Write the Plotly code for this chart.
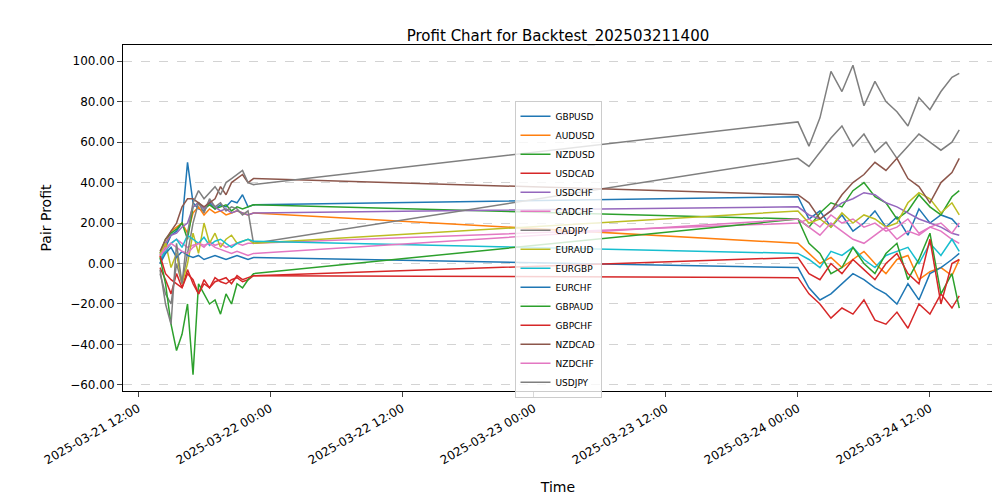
import plotly.graph_objects as go
import pandas as pd

t1 = list(pd.date_range("2025-03-21 14:00", "2025-03-21 22:30", freq="30min"))
t2 = list(pd.date_range("2025-03-24 00:00", "2025-03-24 14:00", freq="60min")) + [pd.Timestamp("2025-03-24 14:40")]
times = t1 + t2

names = ["GBPUSD","AUDUSD","NZDUSD","USDCAD","USDCHF","CADCHF","CADJPY","EURAUD",
         "EURGBP","EURCHF","GBPAUD","GBPCHF","NZDCAD","NZDCHF","USDJPY"]
colors = ["#1f77b4","#ff7f0e","#2ca02c","#d62728","#9467bd","#e377c2","#7f7f7f","#bcbd22",
          "#17becf","#1f77b4","#2ca02c","#d62728","#8c564b","#e377c2","#7f7f7f"]

GBPUSD = [0,8,14,16,20,50,30,27,26,30,27,29,28,31,30,34,28,29,
          33,22,26,18,24,16,20,26,18,23,14,27,20,24,22,18]
AUDUSD = [3,10,16,18,20,15,25,28,24,27,25,26,24,25,26,25,24,25,
          10,5,0,3,-2,2,6,0,-5,2,4,-8,-4,-2,-6,2]
NZDUSD = [5,12,15,17,20,12,28,30,27,29,27,28,29,26,28,27,28,29,
          22,18,25,30,28,36,40,33,30,22,26,34,28,24,33,36]
USDCAD = [-2,-8,-15,-5,-12,-3,-10,-15,-8,-12,-7,-9,-10,-8,-7,-9,-8,-6,
          -7,-15,-20,-27,-22,-25,-18,-28,-30,-24,-32,-20,-25,-15,-22,-16]
USDCHF = [4,10,14,15,18,20,28,30,27,31,28,26,27,25,26,25,24,25,
          28,24,22,26,30,32,35,34,30,28,25,22,20,18,15,14]
CADCHF = [5,8,10,12,10,8,9,10,8,11,9,10,8,9,10,9,10,10,
          20,22,18,24,20,22,18,20,16,18,22,15,18,16,12,10]
CADJPY = [-5,-15,-20,0,-10,5,20,30,25,32,28,30,26,28,27,24,26,10,
          52,48,55,62,68,58,64,55,60,52,58,64,60,56,60,66]
EURAUD = [5,10,-2,5,-10,0,15,5,20,10,15,8,12,14,10,11,12,10,
          26,20,22,18,25,20,24,22,18,20,30,35,32,25,30,24]
EURGBP = [2,6,10,12,8,14,12,10,13,9,11,12,10,8,10,11,12,11,
          5,2,-2,6,4,8,2,-2,4,6,8,0,10,4,12,6]
EURCHF = [0,5,8,3,6,4,3,4,2,3,4,3,2,3,4,3,2,3,
          -2,-12,-18,-15,-10,-5,-8,-12,-15,-20,-10,-18,-5,-2,2,5]
GBPAUD = [3,-10,-30,-43,-35,-20,-55,-10,-15,-20,-18,-25,-15,-20,-10,-12,-8,-5,
          22,10,5,-5,-2,8,0,-5,5,10,-8,2,15,-15,-5,-22]
GBPCHF = [4,-5,-8,-10,-12,-5,-8,-15,-10,-12,-9,-8,-7,-10,-6,-8,-7,-6,
          3,-5,-8,0,-5,2,-3,-8,0,5,-5,-10,12,-20,0,2]
NZDCAD = [6,12,16,20,28,32,32,30,28,30,32,38,34,40,42,44,40,42,
          34,30,22,26,34,40,44,50,46,52,42,38,30,40,45,52]
NZDCHF = [4,7,10,8,6,5,8,10,9,10,8,7,6,5,6,5,4,5,
          22,18,14,20,16,12,10,14,18,12,16,14,18,20,15,20]
USDJPY = [-3,-20,-30,10,-10,15,30,36,32,35,38,34,40,42,44,46,40,39,
          70,58,72,95,85,98,78,90,80,75,68,82,76,85,92,94]

series = [GBPUSD,AUDUSD,NZDUSD,USDCAD,USDCHF,CADCHF,CADJPY,EURAUD,
          EURGBP,EURCHF,GBPAUD,GBPCHF,NZDCAD,NZDCHF,USDJPY]

fig = go.Figure()
for n, c, v in zip(names, colors, series):
    fig.add_trace(go.Scatter(x=times, y=v, mode="lines", name=n,
                             line=dict(color=c, width=1.5)))

ticks = list(pd.date_range("2025-03-21 12:00", "2025-03-24 12:00", freq="12h"))
fig.update_layout(
    width=1000, height=500, plot_bgcolor="white", paper_bgcolor="white",
    margin=dict(l=115, r=15, t=37, b=117, autoexpand=False),
    font=dict(family="DejaVu Sans", size=12, color="black"),
    title=dict(text="Profit Chart for Backtest_202503211400", x=0.55, xanchor="center",
               y=0.955, font=dict(size=15)),
    legend=dict(x=0.5, y=0.41, xanchor="center", yanchor="middle", bgcolor="rgba(255,255,255,0.8)",
                bordercolor="#cccccc", borderwidth=1, font=dict(size=9), tracegroupgap=0,
                itemwidth=30),
)
fig.update_xaxes(title_text="Time", range=["2025-03-21 10:38", "2025-03-24 17:44"],
                 tickvals=ticks, ticktext=[d.strftime("%Y-%m-%d %H:%M") for d in ticks],
                 tickangle=-30, showgrid=False, showline=True, linecolor="black", mirror=True,
                 ticks="outside", zeroline=False, automargin=False)
fig.update_yaxes(title_text="Pair Profit", range=[-63, 108], tickformat=".2f", dtick=20,
                 showgrid=True, gridcolor="#d3d3d3", griddash="dash", showline=True,
                 linecolor="black", mirror=True, ticks="outside", zeroline=False, automargin=False)
fig.write_html("out.html")
